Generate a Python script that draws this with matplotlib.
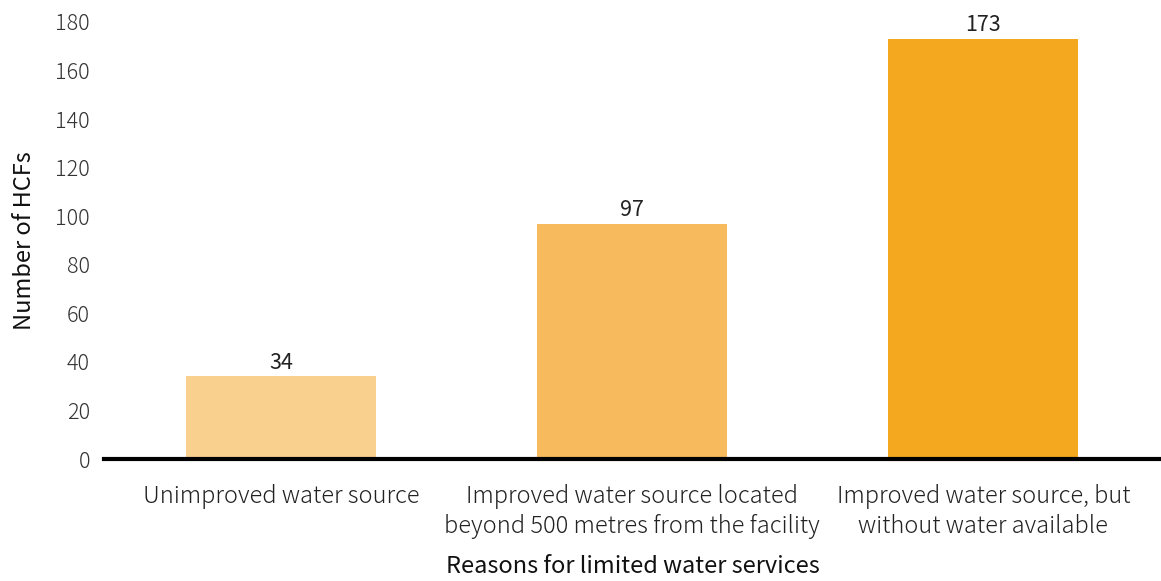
import matplotlib
matplotlib.use("Agg")
import matplotlib.pyplot as plt

plt.rcParams['font.family'] = ['Noto Sans CJK JP', 'DejaVu Sans']

reasons = ["Unimproved water source",
           "Improved water source located\nbeyond 500 metres from the facility",
           "Improved water source, but\nwithout water available"]
hcfs = [34, 97, 173]
colours = ["#F9D08E", "#F7BA5C", "#F4A81F"]
yticks = [0, 20, 40, 60, 80, 100, 120, 140, 160, 180]

fig = plt.figure(figsize=(11.61, 5.81), dpi=100)
ax = fig.add_axes([104 / 1161, 122 / 581, 1 - 104 / 1161, 437 / 581])

x = range(len(reasons))
bars = ax.bar(x, hcfs, width=0.54, color=colours, zorder=2)
for b, v in zip(bars, hcfs):
    ax.text(b.get_x() + b.get_width() / 2, v + 1.2, str(v), ha='center', va='bottom',
            fontsize=15.5, color='#222222')

ax.set_xlim(-0.504, 2.506)
ax.set_ylim(0, 180)
ax.set_yticks(yticks)
ax.set_yticklabels([str(t) for t in yticks], fontsize=15.5, fontweight='light', color='#333333')
ax.set_xticks(list(x))
ax.set_xticklabels(reasons, fontsize=17, fontweight='light', color='#222222', linespacing=1.25)
ax.tick_params(axis='both', length=0)
ax.tick_params(axis='y', pad=10)
ax.tick_params(axis='x', pad=18)

for side in ['top', 'right', 'left']:
    ax.spines[side].set_visible(False)
ax.spines['bottom'].set_linewidth(3)
ax.spines['bottom'].set_color('black')
ax.spines['bottom'].set_zorder(3)

ax.set_ylabel("Number of HCFs", fontsize=17, color='#111111', labelpad=14)
ax.set_xlabel("Reasons for limited water services", fontsize=17, color='#111111', labelpad=12)

fig.savefig("out.png", dpi=100)
